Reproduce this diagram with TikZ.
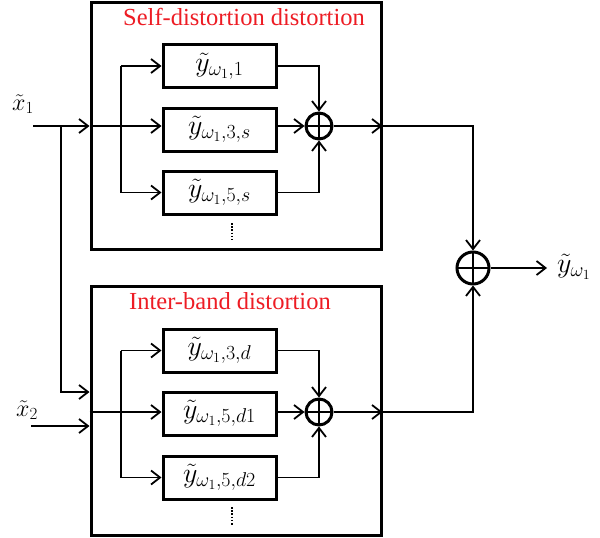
\RequirePackage{fix-cm}
\documentclass[tikz,border=0pt]{standalone}
\usepackage{fontspec}
\setmainfont{Liberation Serif}
\usetikzlibrary{arrows.meta}
\DeclareMathSizes{28}{28}{20}{14}
\DeclareMathSizes{24}{24}{17}{12}
\definecolor{titlered}{RGB}{237,28,36}
\begin{document}
\begin{tikzpicture}[x=1pt,y=-1pt,
  line/.style={line width=1.8pt},
  conn/.style={line width=1.8pt,-{Straight Barb[length=9pt,width=14pt,line width=1.8pt]}},
  outer/.style={draw,line width=3pt,minimum width=290pt,minimum height=247pt,inner sep=0pt},
  blk/.style={draw,line width=3pt,minimum width=113pt,minimum height=43pt,inner sep=0pt,
    font=\fontsize{28}{30}\selectfont},
  sum/.style={draw,circle,line width=3pt,inner sep=0pt,
    path picture={\draw[line width=2.6pt]
      (path picture bounding box.north) -- (path picture bounding box.south)
      (path picture bounding box.west) -- (path picture bounding box.east);}},
  title/.style={text=titlered,font=\fontsize{24.5}{28}\selectfont,anchor=base,inner sep=0pt},
  lbl/.style={font=\fontsize{24}{26}\selectfont,inner sep=0pt},
  dotsline/.style={line width=2pt,dash pattern=on 1.6pt off 1.6pt}]
\useasboundingbox (0,0) rectangle (600,538);

% outer blocks
\node[outer] (top) at (236,125.5) {};
\node[outer,minimum height=249pt] (bot) at (236,410.5) {};
\node[title] (ttop) at (244,25) {Self-distortion distortion};
\node[title] (tbot) at (230,309) {Inter-band distortion};

% self-distortion terms
\node[blk] (ta1) at (219.5,66) {$\tilde{y}_{\omega_1,1}$};
\node[blk] (ta2) at (219.5,129.5) {$\tilde{y}_{\omega_1,3,s}$};
\node[blk] (ta3) at (219.5,192.5) {$\tilde{y}_{\omega_1,5,s}$};
\draw[dotsline] (232,223) -- (232,240);

% inter-band terms
\node[blk] (tb1) at (219.5,350.5) {$\tilde{y}_{\omega_1,3,d}$};
\node[blk] (tb2) at (219.5,413.5) {$\tilde{y}_{\omega_1,5,d1}$};
\node[blk] (tb3) at (219.5,477.5) {$\tilde{y}_{\omega_1,5,d2}$};
\draw[dotsline] (232,507) -- (232,525);

% summing junctions
\node[sum,minimum size=26pt] (s1) at (319,126) {};
\node[sum,minimum size=26pt] (s2) at (319,412) {};
\node[sum,minimum size=32pt] (fin) at (473,268) {};

% inputs and output labels
\node[lbl] (lx1) at (23,104) {$\tilde{x}_1$};
\node[lbl] (lx2) at (27,410) {$\tilde{x}_2$};
\node[lbl,font=\fontsize{28}{30}\selectfont,anchor=west] (ly) at (557,267) {$\tilde{y}_{\omega_1}$};

\coordinate (x1s) at (33,126);
\coordinate (tap) at (61,126);
\coordinate (x1b) at (61,392);
\coordinate (x2s) at (31,426);
\coordinate (in2) at (91,412);
\coordinate (br) at (121,0);
\coordinate (yout) at (547,268);

% input of the upper block
\draw[conn] (x1s) -- (x1s -| top.west);
\draw[conn] (x1s -| top.west) -- (x1s -| ta2.west);
\draw[conn] (br |- ta1) -- (ta1.west);
\draw[line] (br |- ta1) -- (br |- ta3);
\draw[conn] (br |- ta3) -- (ta3.west);

% input of the lower block
\draw[conn] (tap) -- (x1b) -- (x1b -| bot.west);
\draw[conn] (x2s) -- (x2s -| bot.west);
\draw[conn] (in2 -| bot.west) -- (in2 -| tb2.west);
\draw[conn] (br |- tb1) -- (tb1.west);
\draw[line] (br |- tb1) -- (br |- tb3);
\draw[conn] (br |- tb3) -- (tb3.west);

% upper summation
\draw[conn] (ta1.east) -| (s1.north);
\draw[conn] (s1 -| ta2.east) -- (s1.west);
\draw[conn] (ta3.east) -| (s1.south);
\draw[conn] (s1.east) -- (s1 -| top.east);
\draw[conn] (s1 -| top.east) -| (fin.north);

% lower summation
\draw[conn] (tb1.east) -| (s2.north);
\draw[conn] (s2 -| tb2.east) -- (s2.west);
\draw[conn] (tb3.east) -| (s2.south);
\draw[conn] (s2.east) -- (s2 -| bot.east);
\draw[conn] (s2 -| bot.east) -| (fin.south);

% output
\draw[conn] (fin.east) -- (yout);
\end{tikzpicture}
\end{document}
